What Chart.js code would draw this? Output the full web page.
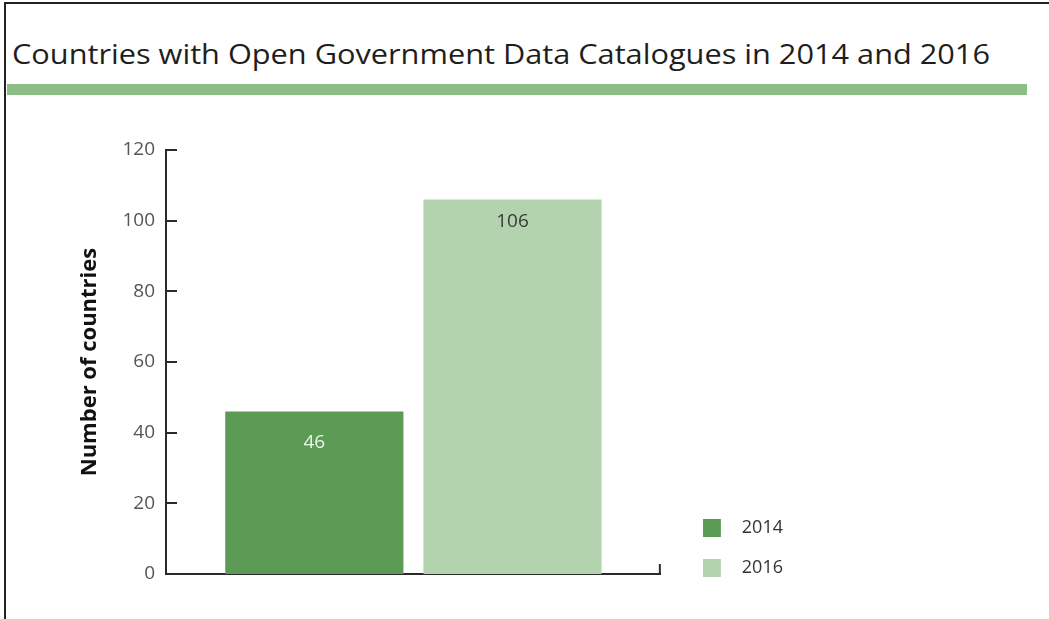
<!DOCTYPE html>
<html>
<head>
<meta charset="utf-8">
<script src="https://cdn.jsdelivr.net/npm/chart.js@4/dist/chart.umd.min.js"></script>
<style>
  html, body { margin: 0; padding: 0; background: #fff; }
  #wrap { position: relative; width: 1049px; height: 619px; overflow: hidden; }
  #frameTop { position: absolute; left: 4px; top: 2px; width: 1045px; height: 2px; background: #222; }
  #frameLeft { position: absolute; left: 4px; top: 2px; width: 2px; height: 617px; background: #222; }
  #title { position: absolute; left: 12px; top: 34px; margin: 0; font-family: "Open Sans", sans-serif; font-weight: 400; font-size: 28px; color: #1e1e1e; white-space: nowrap; transform-origin: 0 0; }
  #band { position: absolute; left: 7px; top: 84px; width: 1020px; height: 11px; background: #8bbd86; }
  #c { position: absolute; left: 0; top: 0; }
</style>
</head>
<body>
<div id="wrap">
  <div id="frameTop"></div>
  <div id="frameLeft"></div>
  <h1 id="title">Countries with Open Government Data Catalogues in 2014 and 2016</h1>
  <div id="band"></div>
  <canvas id="c" width="1049" height="619"></canvas>
</div>
<script>
// ---- data ----
const categories = ["Countries"];
const seriesNames = ["2014", "2016"];
const values2014 = [46];
const values2016 = [106];
const yTicks = [0, 20, 40, 60, 80, 100, 120];
const yAxisTitle = "Number of countries";

// fit title width to reference
(function(){
  const t = document.getElementById('title');
  const w = t.getBoundingClientRect().width;
  t.style.transform = 'scaleX(' + (978 / w) + ')';
})();

const axisColor = '#2a2a2a';
const colors = ['#5b9b55', '#b2d3ae'];

function swatch(color) {
  const c = document.createElement('canvas');
  c.width = 30; c.height = 18;
  const g = c.getContext('2d');
  g.fillStyle = color;
  g.fillRect(0, 0, 18, 18);
  return c;
}

const axisDecor = {
  id: 'axisDecor',
  afterDraw(chart) {
    const ctx = chart.ctx;
    const y = chart.scales.y;
    const ca = chart.chartArea;
    ctx.save();
    ctx.strokeStyle = axisColor;
    ctx.lineWidth = 2;
    y.ticks.forEach(t => {
      const py = Math.round(y.getPixelForValue(t.value));
      ctx.beginPath();
      ctx.moveTo(ca.left, py);
      ctx.lineTo(ca.left + 11, py);
      ctx.stroke();
    });
    ctx.beginPath();
    ctx.moveTo(ca.right - 1, ca.bottom);
    ctx.lineTo(ca.right - 1, ca.bottom - 10);
    ctx.stroke();
    ctx.restore();
  }
};

const barLabels = {
  id: 'barLabels',
  afterDatasetsDraw(chart) {
    const ctx = chart.ctx;
    ctx.save();
    ctx.font = '19px "Open Sans", sans-serif';
    ctx.textAlign = 'center';
    ctx.textBaseline = 'middle';
    chart.data.datasets.forEach((ds, i) => {
      const meta = chart.getDatasetMeta(i);
      meta.data.forEach((bar, j) => {
        ctx.fillStyle = ds.labelColor;
        ctx.fillText(String(ds.data[j]), bar.x, bar.y + ds.labelOffset);
      });
    });
    ctx.restore();
  }
};

new Chart(document.getElementById('c'), {
  type: 'bar',
  data: {
    labels: categories,
    datasets: [
      { label: seriesNames[0], data: values2014, backgroundColor: colors[0], labelColor: '#e9f5e7', labelOffset: 31 },
      { label: seriesNames[1], data: values2016, backgroundColor: colors[1], labelColor: '#3a3a3a', labelOffset: 22 }
    ]
  },
  options: {
    responsive: false,
    animation: false,
    layout: { padding: { left: 75, top: 150, bottom: 20, right: 256 } },
    datasets: { bar: { categoryPercentage: 0.801, barPercentage: 0.899 } },
    scales: {
      x: {
        afterFit(scale) { scale.height = 25; },
        grid: { display: false, drawTicks: false },
        border: { display: true, color: axisColor, width: 2 },
        ticks: { display: false }
      },
      y: {
        min: 0, max: 120,
        afterBuildTicks(scale) { scale.ticks = yTicks.map(v => ({ value: v })); },
        afterFit(scale) { scale.width = 91; },
        grid: { display: false, drawTicks: false },
        border: { display: true, color: axisColor, width: 2 },
        ticks: { padding: 11, color: '#555', font: { family: '"Open Sans", sans-serif', size: 19 } },
        title: { display: true, text: yAxisTitle, color: '#111', padding: { top: 2, bottom: 0 }, font: { family: '"Open Sans", sans-serif', size: 22, weight: 'bold' } }
      },
      gap: {
        type: 'linear', position: 'right', display: true,
        afterFit(scale) { scale.width = 20; },
        grid: { display: false, drawTicks: false },
        border: { display: false },
        ticks: { display: false }
      }
    },
    plugins: {
      legend: {
        position: 'right',
        align: 'end',
        labels: {
          usePointStyle: true, pointStyleWidth: 30, boxHeight: 18, padding: 22,
          color: '#333', font: { family: '"Open Sans", sans-serif', size: 18 },
          generateLabels(chart) {
            const items = Chart.defaults.plugins.legend.labels.generateLabels(chart);
            items.forEach(it => { it.pointStyle = swatch(colors[it.datasetIndex]); });
            return items;
          }
        }
      },
      tooltip: { enabled: false }
    }
  },
  plugins: [axisDecor, barLabels]
});
</script>
</body>
</html>
